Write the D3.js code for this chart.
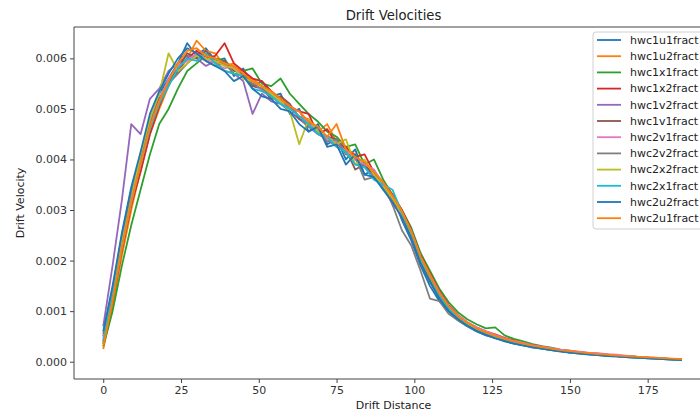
<!DOCTYPE html>
<html>
<head>
<meta charset="utf-8">
<script src="https://cdn.jsdelivr.net/npm/d3@7"></script>
<style>
  body { margin: 0; background: #fff; }
  text { font-family: "DejaVu Sans", sans-serif; }
</style>
</head>
<body>
<div id="chart"></div>
<script>
// drift distance (x) shared by all runs
const distance = [0,3,6,9,12,15,18,21,24,27,30,33,36,39,42,45,48,51,54,57,60,63,66,69,72,75,78,81,84,87,90,93,96,99,102,105,108,111,114,117,120,123,126,129,132,135,138,141,144,147,150,153,156,159,162,165,168,171,174,177,180,183,186];

const seriesNames = ["hwc1u1fract","hwc1u2fract","hwc1x1fract","hwc1x2fract","hwc1v2fract","hwc1v1fract",
  "hwc2v1fract","hwc2v2fract","hwc2x2fract","hwc2x1fract","hwc2u2fract","hwc2u1fract"];

const hwc1u1 = [.00035,.0014,.0025,.0034,.004,.0047,.0053,.0056,.0059,.0063,.00605,.0062,.00595,.006,.00565,.0058,.00545,.00555,.00525,.0053,.0049,.005,.00455,.0047,.0043,.0044,.004,.0042,.0037,.0038,.0034,.0033,.0028,.0024,.0019,.0015,.0012,.001,.00082,.0007,.0006,.00052,.00047,.0004,.00036,.00033,.00028,.00026,.00023,.00021,.00018,.00017,.00015,.00013,.00012,.00011,.00009,.00008,.00007,.00006,.00005,.00004,.00003];
const hwc1u2 = [.00025,.0011,.0021,.003,.0038,.0045,.005,.00545,.00585,.006,.00635,.00615,.0061,.00585,.0059,.00565,.0056,.00545,.0052,.00525,.00505,.00485,.0048,.00455,.0047,.00435,.0042,.0041,.00385,.00375,.0035,.00325,.00295,.00255,.00205,.0017,.00135,.00108,.0009,.00076,.00066,.00058,.0005,.00045,.0004,.00035,.00032,.00028,.00026,.00023,.0002,.00018,.00016,.00015,.00013,.00012,.0001,.00009,.00008,.00007,.00006,.00005,.00004];
const hwc1x1 = [.0003,.001,.0019,.0027,.0034,.0041,.0047,.005,.0054,.00575,.0059,.00605,.006,.00595,.0058,.00575,.0058,.0055,.00545,.0056,.0053,.0051,.0049,.00475,.00455,.00445,.00425,.0043,.0039,.004,.0036,.0033,.003,.00265,.00215,.0018,.00145,.00118,.00098,.00084,.00074,.00066,.00068,.00052,.00045,.0004,.00035,.00031,.00028,.00024,.00022,.00019,.00017,.00016,.00014,.00012,.00011,.0001,.00008,.00007,.00006,.00005,.00004];
const hwc1x2 = [.0004,.0012,.0022,.0031,.00375,.0045,.00505,.0055,.00575,.006,.00615,.006,.00605,.0063,.0059,.00575,.0056,.00555,.00535,.0052,.00505,.00495,.0049,.0045,.0046,.0043,.00425,.00405,.0041,.00375,.00355,.0033,.003,.0026,.0021,.00175,.0014,.00112,.00092,.00078,.00068,.0006,.00054,.00047,.00042,.00036,.00033,.0003,.00026,.00023,.00021,.00019,.00017,.00015,.00014,.00012,.00011,.0001,.00008,.00007,.00006,.00005,.00004];
const hwc1v2 = [.0007,.0019,.0032,.0047,.0045,.0052,.0054,.00575,.0059,.00605,.006,.00585,.00595,.00575,.0057,.00555,.0049,.0053,.00515,.0051,.00495,.0048,.00465,.0045,.0044,.00425,.00415,.004,.00385,.00365,.00345,.0032,.00285,.00245,.00195,.0016,.00128,.00102,.00086,.00073,.00063,.00055,.00049,.00043,.00038,.00034,.0003,.00027,.00024,.00022,.00019,.00017,.00016,.00014,.00013,.00011,.0001,.00009,.00008,.00007,.00006,.00005,.00004];
const hwc1v1 = [.0005,.00135,.00235,.00325,.00395,.00465,.0052,.00555,.0058,.0061,.006,.00615,.0059,.00595,.00575,.0057,.00545,.0054,.0052,.00525,.0051,.0048,.00475,.00455,.00445,.0044,.0042,.0038,.0039,.0037,.0035,.00322,.00292,.0025,.002,.00163,.0013,.00104,.00087,.00074,.00064,.00056,.0005,.00044,.00039,.00035,.00031,.00028,.00025,.00022,.0002,.00018,.00016,.00015,.00013,.00012,.0001,.00009,.00008,.00007,.00006,.00005,.00004];
const hwc2v1 = [.00045,.0013,.0024,.0033,.004,.0047,.00515,.0056,.00585,.00595,.0061,.006,.0059,.0058,.00585,.0056,.00555,.00535,.0053,.00515,.005,.00495,.0047,.0046,.0044,.00435,.00415,.004,.0039,.0038,.00352,.0031,.00295,.00258,.00208,.00172,.00138,.0011,.00092,.00078,.00068,.0006,.00053,.00046,.00041,.00037,.00033,.0003,.00027,.00024,.00022,.0002,.00018,.00017,.00015,.00014,.00012,.0001,.00009,.00008,.00007,.00005,.00004];
const hwc2v2 = [.00055,.00145,.00245,.00335,.00405,.0047,.00515,.0055,.0057,.0059,.00605,.00595,.00585,.0059,.0057,.00565,.0055,.0054,.00525,.0051,.00505,.00485,.00465,.00455,.00435,.0044,.0041,.00405,.0036,.00365,.0035,.0031,.0026,.0023,.0018,.00125,.0012,.00095,.00082,.0007,.00061,.00054,.00048,.00042,.00037,.00033,.0003,.00027,.00024,.00021,.00019,.00017,.00015,.00014,.00012,.00011,.0001,.00009,.00008,.00007,.00006,.00005,.00004];
const hwc2x2 = [.00035,.00125,.00235,.0032,.0041,.0048,.0053,.0061,.00575,.0059,.00605,.006,.00595,.00585,.0058,.0056,.00555,.00545,.0053,.00515,.00495,.0043,.0048,.00455,.00445,.0043,.0044,.0039,.004,.0037,.00348,.00323,.00293,.00252,.00203,.00168,.00133,.00107,.00089,.00075,.00065,.00057,.0005,.00044,.00039,.00035,.00031,.00028,.00025,.00022,.0002,.00018,.00016,.00015,.00013,.00012,.0001,.00009,.00008,.00007,.00006,.00005,.00004];
const hwc2x1 = [.0004,.0013,.00225,.00315,.0039,.0046,.0051,.00545,.0058,.006,.00595,.0061,.0059,.00575,.0057,.00565,.0054,.00535,.00525,.0051,.005,.00485,.0047,.0045,.00445,.00425,.00415,.0039,.00385,.0036,.0035,.0034,.00295,.00255,.00205,.0017,.00132,.00105,.00086,.00072,.00062,.00054,.00047,.00042,.00037,.00033,.00029,.00026,.00023,.00021,.00018,.00016,.00015,.00013,.00012,.00011,.00009,.00008,.00007,.00006,.00005,.00004,.00003];
const hwc2u2 = [.0006,.0015,.00255,.00345,.00415,.0049,.00535,.0057,.006,.0062,.0061,.00595,.00585,.00575,.00555,.00565,.0054,.00525,.0052,.005,.00495,.0047,.00455,.00465,.00425,.0043,.0039,.0041,.0037,.00365,.0034,.00315,.00285,.00245,.00195,.00158,.00125,.001,.00084,.00071,.00061,.00053,.00046,.00041,.00036,.00032,.00029,.00026,.00023,.0002,.00018,.00016,.00014,.00013,.00011,.0001,.00009,.00008,.00007,.00006,.00005,.00004,.00003];
const hwc2u1 = [.0003,.0012,.00225,.00315,.0039,.00465,.00515,.00555,.0059,.00615,.0062,.00605,.006,.0059,.00585,.0057,.00555,.00545,.00535,.0052,.00505,.00495,.00475,.00465,.00445,.0047,.0042,.00405,.00395,.00375,.00355,.00328,.00298,.00258,.00208,.00172,.00136,.0011,.0009,.00077,.00066,.00058,.00051,.00045,.0004,.00036,.00032,.00029,.00026,.00023,.00021,.00019,.00017,.00015,.00014,.00012,.00011,.0001,.00009,.00008,.00007,.00006,.00005];

const xTicks = [0,25,50,75,100,125,150,175];
const yTicks = [0,0.001,0.002,0.003,0.004,0.005,0.006];

const allValues = [hwc1u1,hwc1u2,hwc1x1,hwc1x2,hwc1v2,hwc1v1,hwc2v1,hwc2v2,hwc2x2,hwc2x1,hwc2u2,hwc2u1];
const colors = d3.schemeCategory10;

const W = 700, H = 411;
// axes box (right edge runs past the picture, as in the reference)
const margin = {top: 27, left: 74, bottom: 379, right: 713};

const svg = d3.select("#chart")
  .append("svg")
    .attr("width", W)
    .attr("height", H);

const x = d3.scaleLinear().domain([-9.4, 196]).range([margin.left, margin.right]);
const y = d3.scaleLinear().domain([-0.000342, 0.00662]).range([margin.bottom, margin.top]);

// lines
const line = d3.line()
  .x(d => x(d[0]))
  .y(d => y(d[1]));

svg.append("g")
  .selectAll("path")
  .data(allValues)
  .join("path")
    .attr("fill", "none")
    .attr("stroke", (d, i) => colors[i % 10])
    .attr("stroke-width", 1.8)
    .attr("stroke-linejoin", "round")
    .attr("d", vals => line(distance.map((dx, j) => [dx, vals[j]]).filter(p => p[1] != null)));

// spines
svg.append("path")
  .attr("fill", "none")
  .attr("stroke", "#444")
  .attr("stroke-width", 1)
  .attr("d", `M${margin.right},${margin.top}H${margin.left}V${margin.bottom}H${margin.right}`);

// x axis
const xAxis = svg.append("g")
  .attr("transform", `translate(0,${margin.bottom})`)
  .call(d3.axisBottom(x).tickValues(xTicks).tickSize(4).tickPadding(3).tickFormat(d3.format("d")));
xAxis.select(".domain").remove();
xAxis.selectAll("line").attr("stroke", "#444");
xAxis.selectAll("text").attr("fill", "#333").style("font-size", "11px").style("font-family", "DejaVu Sans");

// y axis
const yAxis = svg.append("g")
  .attr("transform", `translate(${margin.left},0)`)
  .call(d3.axisLeft(y).tickValues(yTicks).tickSize(4).tickPadding(3).tickFormat(d3.format(".3f")));
yAxis.select(".domain").remove();
yAxis.selectAll("line").attr("stroke", "#444");
yAxis.selectAll("text").attr("fill", "#333").style("font-size", "11px").style("font-family", "DejaVu Sans");

// title and labels
const cx = (margin.left + margin.right) / 2;
svg.append("text")
  .attr("x", cx).attr("y", 20)
  .attr("text-anchor", "middle")
  .style("font-size", "13.2px")
  .attr("fill", "#222")
  .text("Drift Velocities");

svg.append("text")
  .attr("x", cx).attr("y", 409)
  .attr("text-anchor", "middle")
  .style("font-size", "11px")
  .attr("fill", "#222")
  .text("Drift Distance");

svg.append("text")
  .attr("transform", `translate(24,${(margin.top + margin.bottom) / 2}) rotate(-90)`)
  .attr("text-anchor", "middle")
  .style("font-size", "11px")
  .attr("fill", "#222")
  .text("Drift Velocity");

// legend
const legend = svg.append("g").attr("transform", "translate(593,32)");
legend.append("rect")
  .attr("width", 130).attr("height", 197)
  .attr("rx", 3)
  .attr("fill", "#fff").attr("fill-opacity", 0.8)
  .attr("stroke", "#d0d0d0");

const item = legend.selectAll("g.item")
  .data(seriesNames)
  .join("g")
    .attr("class", "item")
    .attr("transform", (d, i) => `translate(0,${8 + i * 16.2})`);
item.append("line")
  .attr("x1", 4).attr("x2", 28)
  .attr("stroke", (d, i) => colors[i % 10])
  .attr("stroke-width", 1.8);
item.append("text")
  .attr("x", 37).attr("dy", "0.35em")
  .style("font-size", "11px")
  .attr("fill", "#222")
  .text(d => d);
</script>
</body>
</html>
